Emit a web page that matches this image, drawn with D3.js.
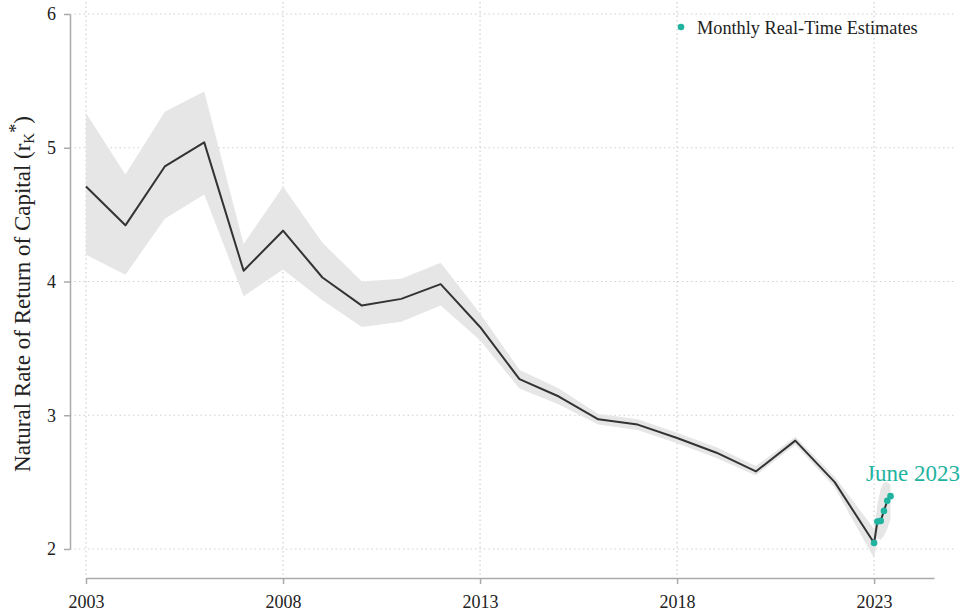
<!DOCTYPE html>
<html><head><meta charset="utf-8">
<script src="https://cdn.jsdelivr.net/npm/d3@7"></script>
<style>body{margin:0;background:#fff}svg{display:block}</style>
</head><body>
<svg id="c" width="963" height="616"></svg>
<script>
const years = [2003,2004,2005,2006,2007,2008,2009,2010,2011,2012,2013,2014,2015,2016,2017,2018,2019,2020,2021,2022,2023];
const rk    = [4.71,4.42,4.86,5.04,4.08,4.38,4.03,3.82,3.87,3.98,3.66,3.27,3.14,2.97,2.93,2.83,2.72,2.58,2.81,2.50,2.045];
const rkLow = [4.20,4.05,4.47,4.65,3.89,4.09,3.86,3.66,3.70,3.82,3.56,3.20,3.08,2.93,2.89,2.79,2.68,2.55,2.78,2.46,1.93];
const rkHigh= [5.26,4.80,5.27,5.42,4.28,4.71,4.29,4.00,4.02,4.14,3.76,3.34,3.20,3.01,2.97,2.87,2.76,2.62,2.84,2.54,2.15];
const months = [1,2,3,4,5,6];
const monthly = [2.045,2.205,2.21,2.285,2.36,2.395];
const mLow  = [1.93,2.08,2.07,2.10,2.15,2.22];
const mHigh = [2.15,2.33,2.45,2.50,2.50,2.48];
const xTicks = [2003,2008,2013,2018,2023];
const yTicks = [2,3,4,5,6];
const teal = "#1fb3a0";
const font = "'Liberation Serif','Times New Roman',serif";

const svg = d3.select("#c");
const x = d3.scaleLinear().domain([2003, 2024.52]).range([86, 934]);
const y = d3.scaleLinear().domain([2, 6]).range([549, 14]);

// gridlines
const grid = svg.append("g").attr("stroke","#cfcfcf").attr("stroke-width",1.2).attr("stroke-dasharray","1.5,3");
grid.selectAll("line.h").data(yTicks).join("line")
  .attr("x1",70).attr("x2",955).attr("y1",d=>y(d)).attr("y2",d=>y(d));
grid.selectAll("line.v").data(xTicks).join("line")
  .attr("x1",d=>x(d)).attr("x2",d=>x(d)).attr("y1",2).attr("y2",578);

// band data (annual then monthly after Jan 2023)
const band = years.map((yr,i)=>({t:yr, lo:rkLow[i], hi:rkHigh[i]}))
  .concat(months.slice(1).map((m,i)=>({t:2023+(m-1)/12, lo:mLow[i+1], hi:mHigh[i+1]})));
svg.append("path").datum(band)
  .attr("fill","#e6e6e6")
  .attr("d", d3.area().x(d=>x(d.t)).y0(d=>y(d.lo)).y1(d=>y(d.hi)));

// main line
const lineData = years.map((yr,i)=>({t:yr, v:rk[i]}));
const line = d3.line().x(d=>x(d.t)).y(d=>y(d.v));
svg.append("path").datum(lineData).attr("fill","none").attr("stroke","#333")
  .attr("stroke-width",2).attr("stroke-linejoin","round").attr("d", line);

const mData = months.map((m,i)=>({t:2023+(m-1)/12, v:monthly[i]}));
svg.append("path").datum(mData).attr("fill","none").attr("stroke","#333")
  .attr("stroke-width",2).attr("d", line);
svg.selectAll("circle.m").data(mData).join("circle")
  .attr("cx",d=>x(d.t)).attr("cy",d=>y(d.v)).attr("r",3.3).attr("fill",teal);

// axes
const yAxis = svg.append("g").attr("transform","translate(70,0)")
  .call(d3.axisLeft(y).tickValues(yTicks).tickFormat(d3.format("d")).tickSize(6).tickSizeOuter(0).tickPadding(8));
const xAxis = svg.append("g").attr("transform","translate(0,578)")
  .call(d3.axisBottom(x).tickValues(xTicks).tickFormat(d3.format("d")).tickSize(6).tickSizeOuter(0).tickPadding(11));
[yAxis,xAxis].forEach(a=>{
  a.selectAll("path,line").attr("stroke","#aaa").attr("stroke-width",1.5);
  a.selectAll("text").attr("fill","#222").style("font-family",font).style("font-size","18px");
});

// y title
const yt = svg.append("text").attr("transform","translate(30,294) rotate(-90)")
  .attr("text-anchor","middle").style("font-family",font).style("font-size","23px").attr("fill","#222");
yt.append("tspan").text("Natural Rate of Return of Capital (r");
yt.append("tspan").attr("baseline-shift","-25%").style("font-size","15px").text("K");
yt.append("tspan").attr("baseline-shift","45%").style("font-size","18px").text("*");
yt.append("tspan").text(")");

// annotation
svg.append("text").attr("x",866).attr("y",481).attr("fill",teal)
  .style("font-family",font).style("font-size","23px").text("June 2023");

// legend
svg.append("circle").attr("cx",681).attr("cy",27).attr("r",3.3).attr("fill",teal);
svg.append("text").attr("x",697).attr("y",34).attr("fill","#222")
  .style("font-family",font).style("font-size","18.3px").text("Monthly Real-Time Estimates");
</script>
</body></html>
